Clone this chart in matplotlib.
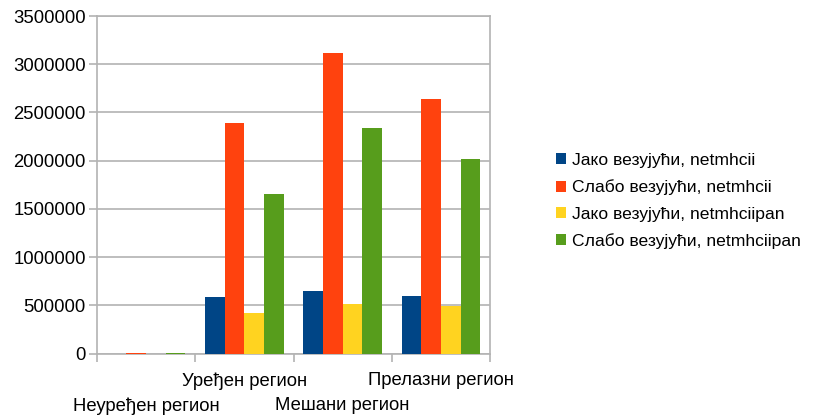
import matplotlib
matplotlib.use("Agg")
import matplotlib.pyplot as plt
import numpy as np

plt.rcParams['font.family'] = ['Liberation Sans', 'DejaVu Sans']

categories = ["Неуређен регион", "Уређен регион", "Мешани регион", "Прелазни регион"]
series_names = [
    "Јако везујући, netmhcii",
    "Слабо везујући, netmhcii",
    "Јако везујући, netmhciipan",
    "Слабо везујући, netmhciipan",
]
strong_netmhcii = [0, 590000, 645000, 592000]
weak_netmhcii = [10000, 2390000, 3120000, 2640000]
strong_netmhciipan = [0, 415000, 510000, 495000]
weak_netmhciipan = [5000, 1650000, 2340000, 2015000]
colors = ["#004586", "#ff420e", "#ffd320", "#579d1c"]

series = [strong_netmhcii, weak_netmhcii, strong_netmhciipan, weak_netmhciipan]

fig = plt.figure(figsize=(8.17, 4.16), dpi=100)
ax = fig.add_axes([97 / 817, 1 - 353.5 / 416, (490 - 97) / 817, (353.5 - 16) / 416])

x = np.arange(len(categories))
w = 0.2
for i, (vals, name, c) in enumerate(zip(series, series_names, colors)):
    ax.bar(x - 0.3 + i * w, vals, width=w, color=c, label=name, zorder=3)

ax.set_xlim(-0.5, len(categories) - 0.5)
ax.set_ylim(0, 3500000)
ax.set_yticks(np.arange(0, 3500001, 500000))
ax.set_yticklabels([str(v) for v in range(0, 3500001, 500000)], fontsize=13.3)
ax.yaxis.grid(True, color="#b3b3b3", linewidth=1.2, zorder=0)
ax.tick_params(axis='y', length=6, width=1.2, color="#b3b3b3", pad=2)

# category labels in two staggered rows, tick marks at group boundaries
ax.set_xticks(x)
ax.set_xticklabels(categories, fontsize=13.3)
ax.tick_params(axis='x', which='major', length=0)
for i, t in enumerate(ax.xaxis.get_major_ticks()):
    t.set_pad(13.5 if i % 2 == 1 else 31.5)
ax.set_xticks(np.arange(-0.5, len(categories), 1.0), minor=True)
ax.tick_params(axis='x', which='minor', length=6, width=1.2, color="#b3b3b3")

for s in ax.spines.values():
    s.set_color("#b3b3b3")
    s.set_linewidth(1.2)

fig.legend(loc='center left', bbox_to_anchor=(540 / 817, 1 - 201 / 416), frameon=False,
           fontsize=12.6, handlelength=0.6, handleheight=0.6, handletextpad=0.3,
           labelspacing=0.65)

fig.savefig("out.png", dpi=100)
